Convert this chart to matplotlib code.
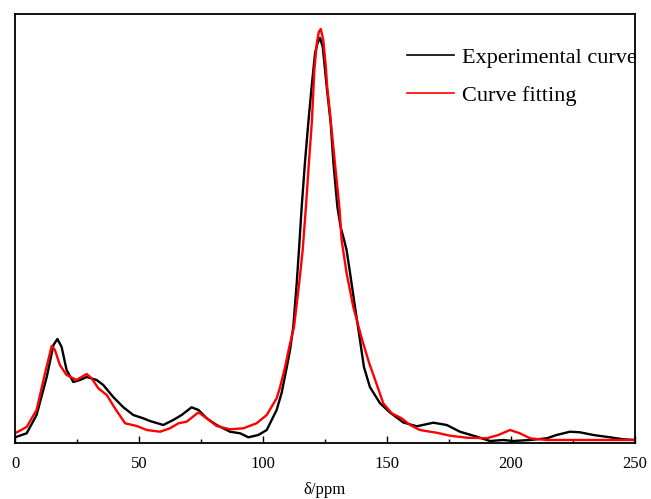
import numpy as np
import matplotlib
matplotlib.use("Agg")
import matplotlib.pyplot as plt
from matplotlib.ticker import MultipleLocator

plt.rcParams['font.family'] = ['Liberation Serif', 'DejaVu Serif']

# --- data (chemical shift / ppm, intensity a.u.) ---
exp_ppm = [0, 4.7, 8.7, 12.8, 15.5, 17.1, 18.8, 20.8, 23.5, 26.2, 28.9, 32.9, 35.6,
           39.6, 43.7, 47.7, 51.7, 54.4, 59.8, 63.8, 67.2, 71.2, 74.0, 77.3, 81.3,
           86.7, 90.8, 94.1, 98.1, 101.5, 105.5, 107.5, 109.6, 110.9, 112.2, 113.6,
           114.5, 115.6, 116.9, 118.3, 119.6, 121.0, 122.0, 123.0, 124.1, 125.7,
           127.3, 128.4, 130.0, 131.3, 132.7, 133.7, 135.1, 137.1, 139.1, 140.7,
           143.1, 147.2, 151.2, 156.6, 162.0, 168.7, 174.1, 179.4, 186.2, 191.5,
           196.9, 200.9, 207.7, 214.4, 218.4, 223.8, 227.8, 233.2, 239.9, 245.3, 250]
exp_int = [5.7, 9.7, 28, 66, 98, 104, 96, 73, 61, 63, 66, 63, 58,
           46, 35.7, 28, 24.7, 22, 18, 23, 28, 35.7, 33, 24.7, 18,
           11.3, 9.7, 5.7, 8, 13, 33, 50, 76, 93, 116, 160,
           193, 236, 280, 321, 356, 390, 400, 405, 396, 356,
           320, 280, 236, 216, 203, 193, 170, 136, 103, 76,
           56, 39.7, 30.5, 20.5, 16.7, 20.3, 18, 11.3, 6.3, 2,
           3, 2, 3, 4.7, 8, 11.3, 10.7, 8, 5.7, 3.7, 3]

fit_ppm = [0, 4.7, 8.7, 12.1, 14.8, 16.1, 18.1, 20.8, 24.8, 28.9, 30.9, 33.6,
           37.0, 40.3, 44.4, 49.1, 53.1, 58.5, 62.5, 65.9, 69.2, 74.0, 77.3,
           81.3, 86.7, 92.1, 97.4, 101.5, 105.5, 106.9, 108.9, 110.5, 112.5,
           114.6, 116.0, 117.3, 118.5, 119.7, 120.7, 121.7, 122.5, 123.3, 124.3,
           125.2, 125.9, 127.0, 128.2, 129.4, 130.8, 131.7, 133.7, 136.4, 140.0,
           142.8, 144.8, 148.5, 151.9, 155.9, 159.3, 163.3, 167.3, 170.0, 175.4,
           182.1, 190.2, 194.9, 199.6, 203.6, 207.7, 214.4, 227.8, 250]
fit_int = [9.7, 16, 33, 69.7, 97, 93, 78, 68, 63, 69, 64.7, 54.7,
           48, 34.7, 19.7, 17, 13, 11.3, 14.7, 19.7, 21.3, 30.7, 24.7,
           17, 13.7, 14.7, 19.7, 28, 44.7, 56, 76, 95, 116,
           160, 193, 236, 280, 321, 373, 400, 411, 414, 403,
           380, 356, 330, 300, 270, 236, 203, 170, 136, 103,
           80, 66, 39.7, 29.7, 24.7, 18, 13, 11.3, 10.3, 7.3,
           5.3, 4.7, 8, 13, 9.7, 4.7, 3, 3, 3]

fig = plt.figure(figsize=(6.51, 4.99), dpi=100)
ax = fig.add_axes([15 / 651, 56 / 499, 620 / 651, 429.5 / 499])

ax.plot(exp_ppm, exp_int, color='black', lw=1.7, label='Experimental curve')
ax.plot(fit_ppm, fit_int, color='#ff0000', lw=1.7, label='Curve fitting')

ax.set_xlim(0, 250)
ax.set_ylim(0, 429.5)
ax.xaxis.set_major_locator(MultipleLocator(50))
ax.xaxis.set_minor_locator(MultipleLocator(25))
ax.set_yticks([])
ax.tick_params(axis='x', which='major', direction='in', length=5, width=1,
               labelsize=12, pad=9.5)
ax.tick_params(axis='x', which='minor', direction='in', length=3, width=1)
for sp in ax.spines.values():
    sp.set_linewidth(1.3)
ax.set_xlabel('δ/ppm', fontsize=12, labelpad=7)

leg = ax.legend(loc='upper left', bbox_to_anchor=(396 / 651, 1 - 36 / 499),
                bbox_transform=fig.transFigure, frameon=False, fontsize=16,
                borderpad=0, handlelength=2.1, handletextpad=0.35,
                labelspacing=0.8)
for h in leg.get_lines():
    h.set_linewidth(1.2)

plt.savefig('out.png', dpi=100)
